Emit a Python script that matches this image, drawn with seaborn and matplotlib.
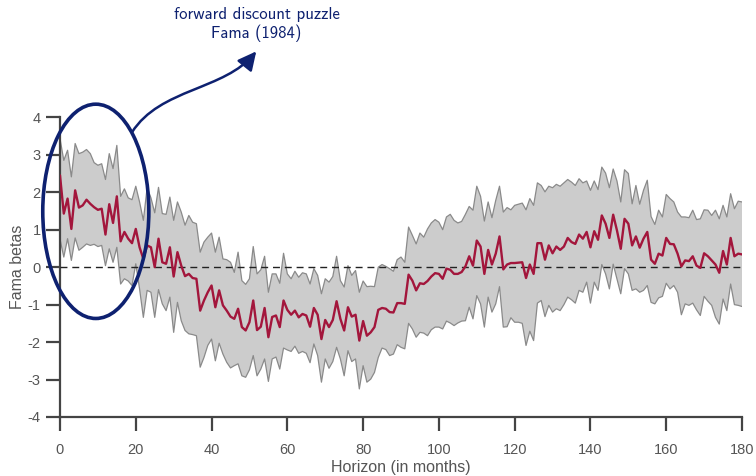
import numpy as np
import pandas as pd
import matplotlib
matplotlib.use("Agg")
import matplotlib.pyplot as plt
import seaborn as sns
from matplotlib.patches import Ellipse, FancyArrowPatch
from matplotlib.path import Path

# Horizon (months) and estimated Fama betas with confidence band
horizon = list(range(0, 181))

beta = [
    2.45, 1.43, 1.83, 1.02, 2.05, 1.59, 1.65, 1.80, 1.69, 1.60,
    1.53, 1.56, 0.87, 1.68, 1.18, 1.89, 0.69, 0.94, 0.76, 0.64,
    1.02, 0.53, 0.22, 0.58, 0.53, 0.00, 0.76, 0.13, 0.09, 0.53,
    -0.25, 0.40, 0.04, -0.24, -0.18, -0.29, -0.31, -1.16, -0.89, -0.67,
    -0.49, -1.07, -0.62, -1.02, -1.16, -1.32, -1.38, -1.11, -1.60, -1.69,
    -1.47, -0.89, -1.68, -1.59, -1.09, -1.87, -1.33, -1.29, -1.60, -0.89,
    -1.14, -1.27, -1.16, -1.34, -1.25, -1.29, -1.59, -1.09, -1.27, -1.92,
    -1.41, -1.60, -1.41, -0.91, -1.38, -1.69, -1.07, -1.32, -1.27, -1.96,
    -1.44, -1.83, -1.74, -1.60, -1.14, -1.09, -1.11, -1.20, -1.21, -0.96,
    -0.96, -0.98, -0.20, -0.36, -0.62, -0.43, -0.45, -0.37, -0.25, -0.16,
    -0.18, -0.31, -0.04, -0.07, -0.18, -0.18, -0.13, 0.02, 0.29, 0.04,
    0.71, 0.55, -0.18, 0.46, 0.07, 0.36, 0.82, -0.06, 0.07, 0.11,
    0.11, 0.12, 0.13, -0.29, 0.07, -0.18, 0.64, 0.64, 0.20, 0.58,
    0.37, 0.55, 0.46, 0.55, 0.78, 0.67, 0.62, 0.87, 0.76, 0.94,
    0.53, 0.96, 0.73, 1.38, 1.16, 0.78, 1.40, 0.98, 0.49, 1.29,
    1.16, 0.58, 0.82, 0.52, 0.76, 0.94, 0.20, 0.09, 0.36, 0.31,
    0.78, 0.62, 0.61, 0.36, 0.02, 0.18, 0.16, 0.29, 0.04, -0.02,
    0.37, 0.29, 0.18, 0.07, -0.15, 0.43, 0.07, 0.78, 0.29, 0.36,
    0.34,
]

upper = [
    3.43, 2.85, 3.12, 2.41, 3.30, 3.03, 3.07, 3.14, 3.03, 2.79,
    2.72, 2.76, 2.34, 3.03, 2.63, 3.25, 1.89, 2.09, 1.85, 1.80,
    2.16, 1.74, 1.25, 2.12, 1.85, 1.45, 2.13, 1.43, 1.41, 1.87,
    1.25, 1.74, 1.47, 1.12, 1.38, 1.20, 1.16, 0.40, 0.67, 0.80,
    0.91, 0.40, 0.80, 0.22, 0.20, 0.13, -0.14, 0.40, -0.36, -0.46,
    -0.31, 0.55, -0.18, -0.07, 0.29, -0.67, -0.18, -0.18, -0.43, 0.37,
    -0.18, -0.31, -0.11, -0.27, -0.15, -0.18, -0.45, -0.04, -0.22, -0.71,
    -0.31, -0.40, -0.25, 0.29, -0.36, -0.53, 0.04, -0.22, -0.09, -0.67,
    -0.37, -0.52, -0.51, -0.52, 0.00, 0.07, 0.02, -0.04, -0.11, 0.20,
    0.27, 0.13, 1.07, 0.85, 0.62, 0.91, 0.80, 1.02, 1.18, 1.27,
    1.20, 1.00, 1.34, 1.41, 1.25, 1.18, 1.22, 1.41, 1.62, 1.52,
    2.16, 1.89, 1.23, 1.74, 1.32, 1.78, 2.16, 1.47, 1.59, 1.53,
    1.65, 1.68, 1.71, 1.53, 1.83, 1.65, 2.25, 2.18, 2.01, 2.16,
    2.12, 2.21, 2.16, 2.25, 2.34, 2.27, 2.18, 2.36, 2.25, 2.30,
    2.05, 2.30, 2.07, 2.67, 2.51, 2.12, 2.62, 2.30, 1.74, 2.60,
    2.50, 1.69, 2.18, 1.68, 2.05, 2.32, 1.35, 1.14, 1.52, 1.34,
    1.94, 1.83, 1.74, 1.47, 1.34, 1.34, 1.32, 1.52, 1.27, 1.29,
    1.53, 1.52, 1.38, 1.52, 1.29, 1.65, 1.34, 1.96, 1.56, 1.76,
    1.74,
]

lower = [
    0.75, 0.27, 0.76, 0.18, 0.78, 0.45, 0.53, 0.62, 0.58, 0.61,
    0.55, 0.58, 0.04, 0.49, 0.13, 0.53, -0.45, -0.31, -0.37, -0.49,
    0.09, -0.58, -1.34, -0.62, -0.67, -1.34, -0.60, -0.98, -1.16, -0.80,
    -1.74, -0.94, -1.43, -1.69, -1.78, -1.80, -1.83, -2.67, -2.41, -2.09,
    -1.92, -2.50, -2.03, -2.32, -2.54, -2.69, -2.63, -2.58, -2.90, -2.94,
    -2.74, -2.36, -2.90, -2.72, -2.45, -3.05, -2.45, -2.40, -2.72, -2.16,
    -2.21, -2.25, -2.11, -2.30, -2.25, -2.30, -2.55, -2.05, -2.36, -3.07,
    -2.45, -2.70, -2.52, -2.14, -2.45, -2.90, -2.23, -2.52, -2.45, -3.25,
    -2.63, -3.07, -2.99, -2.81, -2.41, -2.16, -2.20, -2.36, -2.32, -2.07,
    -2.14, -2.18, -1.50, -1.65, -1.87, -1.74, -1.76, -1.83, -1.67, -1.60,
    -1.60, -1.65, -1.44, -1.49, -1.56, -1.49, -1.44, -1.43, -1.07, -1.38,
    -0.76, -0.98, -1.60, -0.80, -1.20, -0.98, -0.52, -1.60, -1.59, -1.35,
    -1.47, -1.47, -1.50, -2.09, -1.71, -1.96, -0.96, -0.89, -1.32, -1.02,
    -1.20, -1.11, -1.16, -1.00, -0.80, -0.87, -0.96, -0.62, -0.67, -0.40,
    -0.96, -0.40, -0.62, 0.07, -0.18, -0.58, 0.08, -0.31, -0.71, -0.04,
    -0.18, -0.62, -0.58, -0.67, -0.62, -0.49, -0.94, -0.98, -0.82, -0.78,
    -0.43, -0.58, -0.49, -0.67, -1.27, -0.98, -1.02, -0.96, -1.14, -1.29,
    -0.78, -0.91, -1.02, -1.34, -1.52, -0.85, -1.16, -0.45, -1.00, -1.02,
    -1.05,
]

x_ticks = [0, 20, 40, 60, 80, 100, 120, 140, 160, 180]
y_ticks = [-4, -3, -2, -1, 0, 1, 2, 3, 4]

df = pd.DataFrame({"horizon": horizon, "beta": beta, "upper": upper, "lower": lower})

sns.set_style("ticks")
plt.rcParams["font.family"] = ["Liberation Sans", "DejaVu Sans"]

RED = "#a3163c"
NAVY = "#0e2170"
AXIS = "#444444"

fig = plt.figure(figsize=(7.56, 4.76), dpi=100)
ax = fig.add_axes([60 / 756, 1 - 417 / 476, (742 - 60) / 756, (417 - 117.3) / 476])

# confidence band
ax.fill_between(df["horizon"], df["lower"], df["upper"], facecolor="#cccccc",
                edgecolor="none", zorder=1)
sns.lineplot(data=df, x="horizon", y="upper", ax=ax, color="#8a8a8a", lw=0.9, zorder=2)
sns.lineplot(data=df, x="horizon", y="lower", ax=ax, color="#8a8a8a", lw=0.9, zorder=2)

# zero reference
ax.axhline(0, color="#222222", lw=1.0, ls=(0, (5, 3.5)), zorder=3)

# point estimates
sns.lineplot(data=df, x="horizon", y="beta", ax=ax, color=RED, lw=1.7, zorder=4)

ax.set_xlim(0, 180)
ax.set_ylim(-4, 4)
ax.set_xticks(x_ticks)
ax.set_yticks(y_ticks)
ax.set_xticklabels([str(v) for v in x_ticks])
ax.set_yticklabels([str(v) for v in y_ticks])
ax.tick_params(axis="both", direction="out", length=10, width=1.6, color=AXIS,
               labelcolor="#555555", labelsize=10.5)
ax.tick_params(axis="x", pad=9)
ax.tick_params(axis="y", pad=4)
for side in ("top", "right"):
    ax.spines[side].set_visible(False)
for side in ("left", "bottom"):
    ax.spines[side].set_color(AXIS)
    ax.spines[side].set_linewidth(1.6)

ax.set_xlabel("Horizon (in months)", fontsize=11.5, color="#555555", labelpad=2)
ax.set_ylabel("Fama betas", fontsize=11.5, color="#555555", labelpad=2)

# highlight of the short-horizon betas
ell = Ellipse((9.45, 1.49), width=28, height=5.72, fill=False, edgecolor=NAVY,
              lw=2.6, zorder=6, clip_on=False)
ax.add_patch(ell)

verts = [(19.0, 3.60), (26.4, 4.78), (43.5, 4.72), (51.8, 5.76)]
codes = [Path.MOVETO, Path.CURVE4, Path.CURVE4, Path.CURVE4]
arrow = FancyArrowPatch(path=Path(verts, codes), arrowstyle="-|>,head_length=0.7,head_width=0.35",
                        mutation_scale=16, color=NAVY, lw=1.8, transform=ax.transData,
                        clip_on=False, zorder=6)
ax.add_patch(arrow)

fig.text(256.5 / 756, 1 - 24.5 / 476, "forward discount puzzle\nFama (1984)",
         ha="center", va="center", fontsize=12, color=NAVY,
         family=["cmss10", "DejaVu Sans"], linespacing=1.25)

fig.savefig("out.png", dpi=100)
